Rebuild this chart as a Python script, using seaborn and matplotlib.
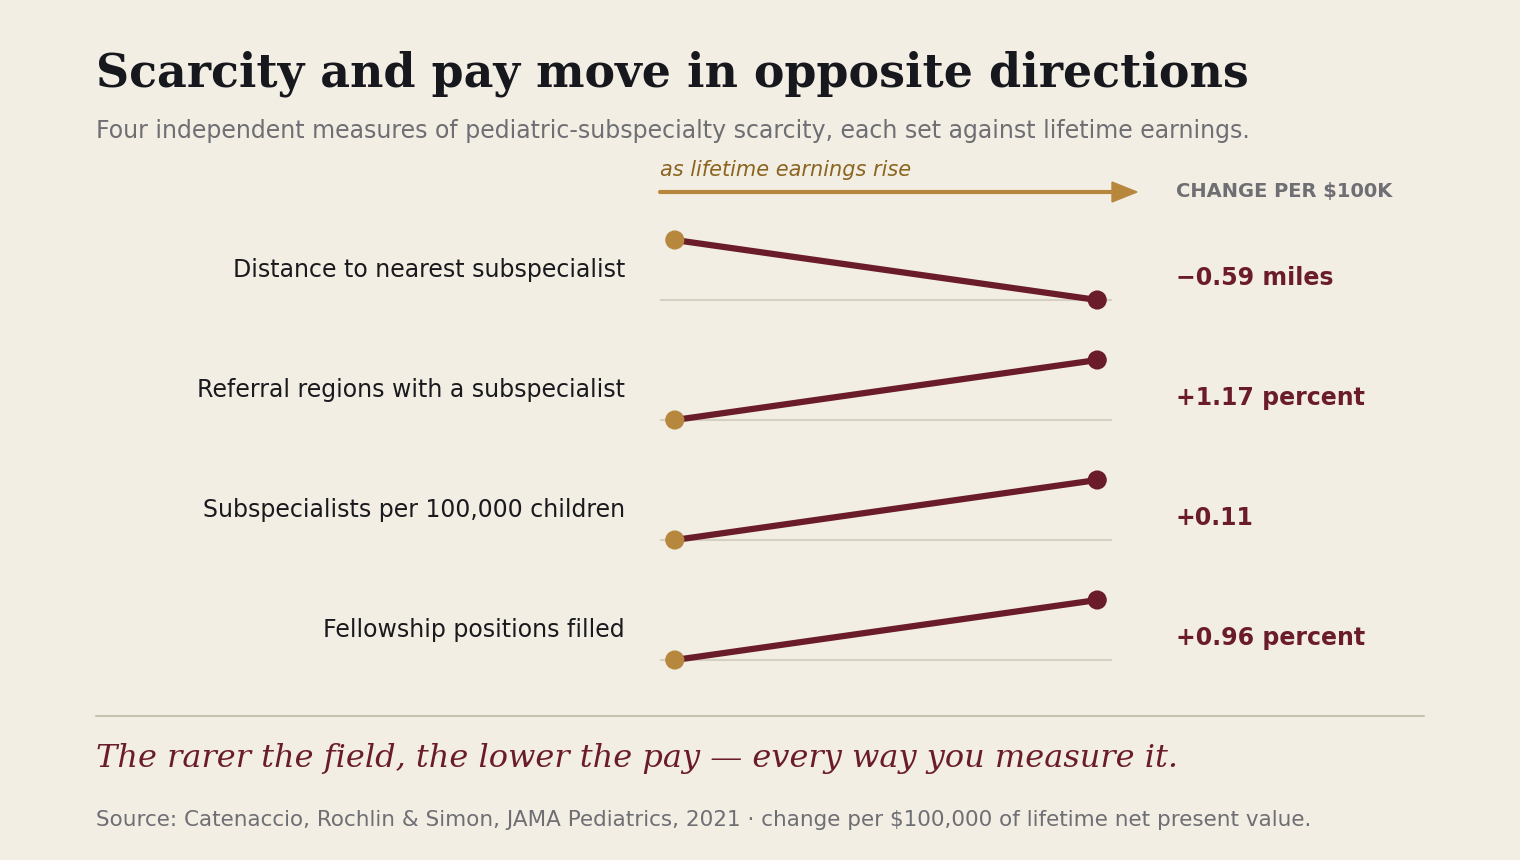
import pandas as pd
import matplotlib.pyplot as plt
import seaborn as sns

measures = ["Distance to nearest subspecialist", "Referral regions with a subspecialist",
            "Subspecialists per 100,000 children", "Fellowship positions filled"]
changes = ["\u22120.59 miles", "+1.17 percent", "+0.11", "+0.96 percent"]
# relative level at low pay (start) and high pay (end): 1 = high, 0 = low
start_level = [1, 0, 0, 0]
end_level = [0, 1, 1, 1]

BG = "#F2EEE4"
MAROON = "#6B1C2A"
TAN = "#B8873E"
GREY = "#6E6E73"

rows = []
for i, m in enumerate(measures):
    rows.append({"measure": m, "row": i, "x": 0, "y": i - 0.5 * start_level[i]})
    rows.append({"measure": m, "row": i, "x": 1, "y": i - 0.5 * end_level[i]})
df = pd.DataFrame(rows)

sns.set_style("white")
plt.rcParams["font.family"] = ["DejaVu Sans"]
fig = plt.figure(figsize=(15.2, 8.6), dpi=100, facecolor=BG)
W, H = 1520, 860
ax = fig.add_axes([660 / W, 1 - 700 / H, 452 / W, 520 / H])
ax.set_facecolor("none")
ax.set_xlim(-0.035, 1.035)
ax.set_ylim(400 / 120, -1)
ax.axis("off")

for i in range(len(measures)):
    ax.axhline(i, color="#D5D0C2", lw=1.5, zorder=0)
sns.lineplot(data=df, x="x", y="y", units="row", estimator=None, color=MAROON,
             lw=4.5, ax=ax, legend=False, zorder=2)
sns.scatterplot(data=df[df.x == 0], x="x", y="y", color=TAN, s=190, edgecolor="none", ax=ax, zorder=3)
sns.scatterplot(data=df[df.x == 1], x="x", y="y", color=MAROON, s=190, edgecolor="none", ax=ax, zorder=3)

def fx(px): return px / W
def fy(py): return 1 - py / H

for i, (m, c) in enumerate(zip(measures, changes)):
    y = 270 + 120 * i
    fig.text(fx(625), fy(y), m, ha="right", va="center", fontsize=17, color="#1A1A1E")
    fig.text(fx(1176), fy(y + 8), c, ha="left", va="center", fontsize=17,
             color=MAROON, fontweight="bold")

fig.text(fx(1176), fy(192), "CHANGE PER $100K", ha="left", va="center", fontsize=14,
         color=GREY, fontweight="bold")
fig.text(fx(660), fy(170), "as lifetime earnings rise", ha="left", va="center",
         fontsize=15, color="#8B6420", style="italic")
fig.add_artist(plt.Line2D([fx(660), fx(1115)], [fy(192), fy(192)], color=TAN, lw=3))
fig.add_artist(plt.Polygon([[fx(1112), fy(182)], [fx(1112), fy(202)], [fx(1137), fy(192)]],
                           closed=True, color=TAN, transform=fig.transFigure))

fig.text(fx(96), fy(74), "Scarcity and pay move in opposite directions", ha="left", va="center",
         fontsize=33, fontweight="bold", family="DejaVu Serif", color="#16181D")
fig.text(fx(96), fy(131), "Four independent measures of pediatric-subspecialty scarcity, each set against lifetime earnings.",
         ha="left", va="center", fontsize=17, color=GREY)
fig.add_artist(plt.Line2D([fx(96), fx(1424)], [fy(716), fy(716)], color="#C8C2B2", lw=1.5))
fig.text(fx(96), fy(758), "The rarer the field, the lower the pay \u2014 every way you measure it.",
         ha="left", va="center", fontsize=23, style="italic", family="DejaVu Serif", color=MAROON)
fig.text(fx(96), fy(820), "Source: Catenaccio, Rochlin & Simon, JAMA Pediatrics, 2021 \u00b7 change per $100,000 of lifetime net present value.",
         ha="left", va="center", fontsize=15.5, color=GREY)

fig.savefig("out.png", dpi=100, facecolor=BG)
